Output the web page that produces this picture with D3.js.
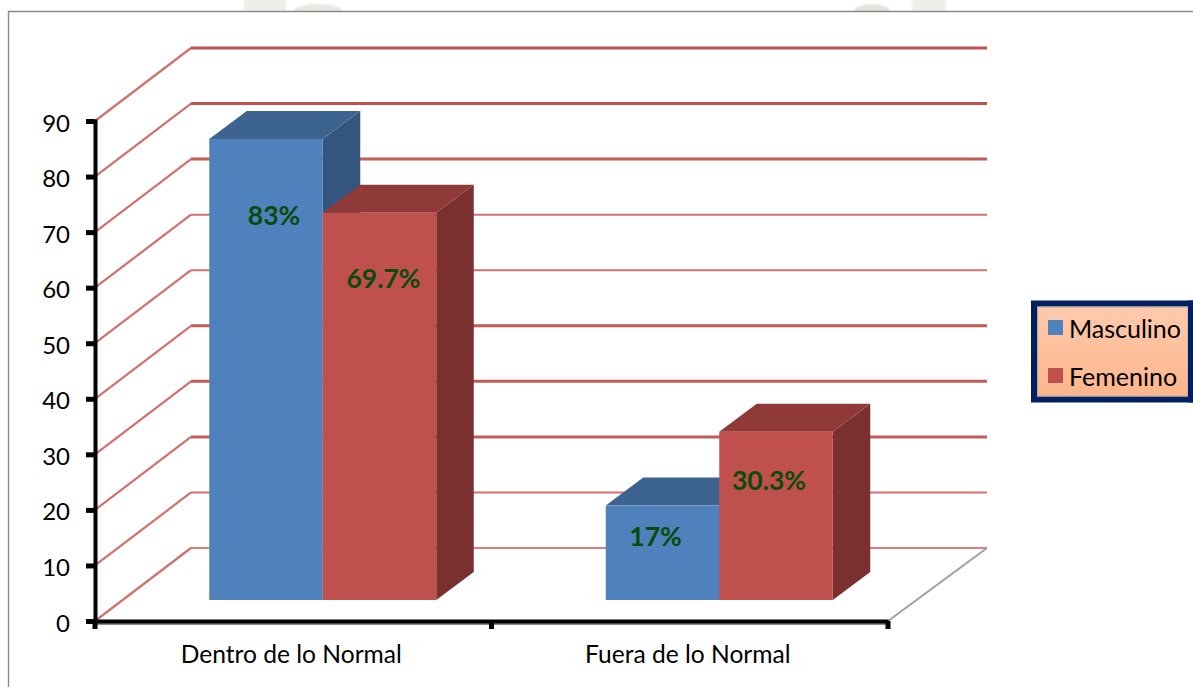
<!DOCTYPE html>
<html lang="es">
<head>
<meta charset="utf-8">
<script src="https://cdn.jsdelivr.net/npm/d3@7/dist/d3.min.js"></script>
<style>
  html, body { margin: 0; padding: 0; background: #fff; }
  svg { display: block; }
  text { font-family: Lato, "Open Sans", sans-serif; fill: #000; }
</style>
</head>
<body>
<svg id="chart" width="1193" height="687"></svg>
<script>
const categories = ["Dentro de lo Normal", "Fuera de lo Normal"];
const seriesNames = ["Masculino", "Femenino"];
const masculino = [83, 17];
const femenino = [69.7, 30.3];
const valueLabels = [["83%", "17%"], ["69.7%", "30.3%"]];
const yTicks = [0, 10, 20, 30, 40, 50, 60, 70, 80, 90];

const frontFaces = ["#4f81bd", "#c0504d"];
const topFaces = ["#3d6491", "#8f3a38"];
const sideFaces = ["#34557d", "#7a302e"];

const svg = d3.select("#chart");

// Projection of the 3D plot box onto the page
const wall = { dx: 96, dy: -73 };      // floor front edge to back wall
const seat = { dx: 29.5, dy: -21 };    // floor front edge to front of the bars
const depth = { dx: 37.5, dy: -28 };   // front to back of one bar

const y = d3.scaleLinear().domain([0, 90]).range([621, 121]);
const x = d3.scaleBand().domain(categories).range([95, 888]);
const barWidth = 113.5;
const barH = v => y(0) - y(v);

const defs = svg.append("defs");
const legendFill = defs.append("linearGradient")
  .attr("id", "legendFill").attr("x1", 0).attr("y1", 0).attr("x2", 0).attr("y2", 1);
legendFill.append("stop").attr("offset", 0).attr("stop-color", "#fdcbae");
legendFill.append("stop").attr("offset", 1).attr("stop-color", "#fdb58a");
defs.append("filter").attr("id", "soft")
  .append("feGaussianBlur").attr("stdDeviation", 1);

// Faint letterhead marks behind the top edge of the page frame
const letterhead = svg.append("g").attr("filter", "url(#soft)");
letterhead.append("rect").attr("x", 244).attr("y", -4).attr("width", 42).attr("height", 15).attr("fill", "#eceee9");
letterhead.append("ellipse").attr("cx", 318).attr("cy", 11).attr("rx", 24).attr("ry", 7).attr("fill", "#e6e9e2");
letterhead.append("ellipse").attr("cx", 872).attr("cy", 12).attr("rx", 18).attr("ry", 8).attr("fill", "#e2e5de");
letterhead.append("rect").attr("x", 912).attr("y", -4).attr("width", 34).attr("height", 15).attr("fill", "#eceee9");

// Page frame
svg.append("rect").attr("x", 9).attr("y", 12).attr("width", 1184).attr("height", 675).attr("fill", "#fff");
svg.append("path")
  .attr("d", "M8.5,687V11.5H1193")
  .attr("fill", "none").attr("stroke", "#8a8a8a").attr("stroke-width", 1.4);

// Gridlines: slanted on the side wall, flat on the back wall
const flatWeights = [2, 2, 3, 3, 3, 2, 2, 3, 3, 3];
const flatColours = ["#d67f7c", "#d2716e", "#c65a57", "#c65a57", "#c65a57", "#d2716e", "#d2716e", "#c65a57", "#c2524f", "#c2524f"];
const grid = svg.append("g").attr("fill", "none");
yTicks.forEach((t, i) => {
  const yf = y(t);
  grid.append("line")
    .attr("x1", 95).attr("y1", yf)
    .attr("x2", 95 + wall.dx).attr("y2", yf + wall.dy)
    .attr("stroke", "#d1706d").attr("stroke-width", 2.2);
  grid.append("line")
    .attr("x1", 95 + wall.dx).attr("y1", yf + wall.dy)
    .attr("x2", 888 + wall.dx + 3).attr("y2", yf + wall.dy)
    .attr("stroke", flatColours[i]).attr("stroke-width", flatWeights[i]);
});

// Floor edge running back from the end of the category axis
svg.append("line")
  .attr("x1", 888).attr("y1", y(0))
  .attr("x2", 888 + wall.dx + 3).attr("y2", y(0) + wall.dy)
  .attr("stroke", "#a0a0a0").attr("stroke-width", 2);

// Bars: each series drawn after the previous so it covers that bar's side face
const bars = svg.append("g");
const seriesValues = [masculino, femenino];
categories.forEach((cat, c) => {
  const mid = x(cat) + x.bandwidth() / 2 + seat.dx;
  [0, 1].forEach(s => {
    const v = seriesValues[s][c];
    const left = mid + (s - 1) * barWidth;
    const right = left + barWidth;
    const bottom = y(0) + seat.dy;
    const top = bottom - barH(v);
    const g = bars.append("g");
    g.append("path")
      .attr("fill", sideFaces[s])
      .attr("d", d3.line()([[right, top], [right + depth.dx, top + depth.dy],
        [right + depth.dx, bottom + depth.dy], [right, bottom]]) + "Z");
    g.append("path")
      .attr("fill", topFaces[s])
      .attr("d", d3.line()([[left, top], [left + depth.dx, top + depth.dy],
        [right + depth.dx, top + depth.dy], [right, top]]) + "Z");
    g.append("rect")
      .attr("x", left).attr("y", top)
      .attr("width", barWidth).attr("height", barH(v))
      .attr("fill", frontFaces[s]);
  });
});

// Value labels sit by hand inside each bar
const labelNudges = [[[8, 76], [-7, 30]], [[4, 65], [-7, 48]]];
categories.forEach((cat, c) => {
  const mid = x(cat) + x.bandwidth() / 2 + seat.dx;
  [0, 1].forEach(s => {
    const v = seriesValues[s][c];
    const left = mid + (s - 1) * barWidth;
    const top = y(0) + seat.dy - barH(v);
    svg.append("text")
      .attr("x", left + barWidth / 2 + labelNudges[s][c][0])
      .attr("y", top + labelNudges[s][c][1])
      .attr("text-anchor", "middle").attr("dominant-baseline", "central")
      .attr("font-size", 26.5).attr("font-weight", 700)
      .style("fill", "#0b4a0b")
      .text(valueLabels[s][c]);
  });
});

// Axes
const yAxis = d3.axisLeft(y).tickValues(yTicks).tickSize(9).tickPadding(16);
const yG = svg.append("g").attr("transform", "translate(95,0)").call(yAxis);
const xAxis = d3.axisBottom(x).tickSize(0).tickPadding(25);
svg.append("line")
  .attr("x1", 95).attr("x2", 888).attr("y1", y(0) + 3).attr("y2", y(0) + 3)
  .attr("stroke", "#8c8c8c").attr("stroke-width", 2);
const xG = svg.append("g").attr("transform", `translate(0,${y(0)})`).call(xAxis);
xG.selectAll(".tick text").attr("font-size", 24.6).attr("dx", -2).style("fill", "#000");
yG.selectAll(".tick text").attr("font-size", 24).attr("dy", "0.42em").style("fill", "#000");
yG.selectAll(".tick line").attr("stroke", "#000").attr("stroke-width", 5);
yG.select(".domain").attr("stroke", "#000").attr("stroke-width", 4);
xG.select(".domain").attr("stroke", "#000").attr("stroke-width", 4);
xG.selectAll(".boundary")
  .data([95, 491.5, 888])
  .join("line")
  .attr("x1", d => d).attr("x2", d => d)
  .attr("y1", 0).attr("y2", 8)
  .attr("stroke", "#000").attr("stroke-width", 5);

// Legend
const legend = svg.append("g");
legend.append("rect")
  .attr("x", 1034).attr("y", 303.5).attr("width", 159).attr("height", 96)
  .attr("fill", "url(#legendFill)").attr("stroke", "#002060").attr("stroke-width", 6);
legend.append("rect")
  .attr("x", 1037.5).attr("y", 307).attr("width", 150.5).attr("height", 89)
  .attr("fill", "none").attr("stroke", "#b3a9a0").attr("stroke-width", 1);
legend.append("rect")
  .attr("x", 1188).attr("y", 300.5).attr("width", 5).attr("height", 102)
  .attr("fill", "#002060");
seriesNames.forEach((name, i) => {
  const rowY = 327.5 + i * 48;
  legend.append("rect")
    .attr("x", 1048).attr("y", rowY - 7.5).attr("width", 15).attr("height", 15)
    .attr("fill", frontFaces[i]);
  legend.append("text")
    .attr("x", 1069).attr("y", rowY)
    .attr("dominant-baseline", "central")
    .attr("font-size", 25)
    .text(name);
});
</script>
</body>
</html>
